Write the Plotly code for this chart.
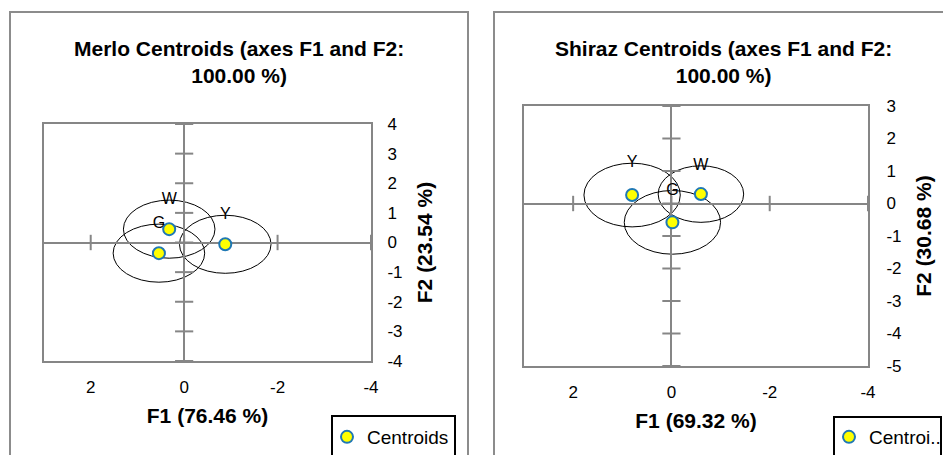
import plotly.graph_objects as go

# ---------------- data ----------------
merlo_labels = ["W", "G", "Y"]
merlo_f1 = [0.32, 0.54, -0.88]
merlo_f2 = [0.45, -0.36, -0.06]
merlo_radius = [0.98, 0.98, 0.98]

shiraz_labels = ["Y", "W", "G"]
shiraz_f1 = [0.80, -0.60, -0.02]
shiraz_f2 = [0.26, 0.29, -0.58]
shiraz_radius = [0.98, 0.87, 0.98]

merlo_xticks = [2, 0, -2, -4]
merlo_xticktext = ["2", "0", "-2", "-4"]
merlo_yticks = [-4, -3, -2, -1, 0, 1, 2, 3, 4]
merlo_yticktext = ["-4", "-3", "-2", "-1", "0", "1", "2", "3", "4"]
shiraz_xticks = [2, 0, -2, -4]
shiraz_xticktext = ["2", "0", "-2", "-4"]
shiraz_yticks = [-5, -4, -3, -2, -1, 0, 1, 2, 3]
shiraz_yticktext = ["-5", "-4", "-3", "-2", "-1", "0", "1", "2", "3"]

merlo_title = "Merlo Centroids (axes F1 and F2:<br>100.00 %)"
shiraz_title = "Shiraz Centroids (axes F1 and F2:<br>100.00 %)"
merlo_xtitle = "F1 (76.46 %)"
merlo_ytitle = "F2 (23.54 %)"
shiraz_xtitle = "F1 (69.32 %)"
shiraz_ytitle = "F2 (30.68 %)"

# ---------------- layout helpers ----------------
W, H = 943, 455
FONT = "Arial, Liberation Sans, sans-serif"
GRAY = "#868686"
MARK_FILL = "#FFFF00"
MARK_LINE = "#1F78B4"


def px(x):
    return x / W


def py(y):
    return 1 - y / H


fig = go.Figure()

panels = [
    dict(labels=merlo_labels, f1=merlo_f1, f2=merlo_f2, r=merlo_radius,
         xt=merlo_xticks, yt=merlo_yticks, xa="x", ya="y",
         name="Centroids", legend="legend"),
    dict(labels=shiraz_labels, f1=shiraz_f1, f2=shiraz_f2, r=shiraz_radius,
         xt=shiraz_xticks, yt=shiraz_yticks, xa="x2", ya="y2",
         name="Centroi..", legend="legend2"),
]

shapes = []
for p in panels:
    # tick crosses on the zero axes
    fig.add_trace(go.Scatter(
        x=[0] * len(p["yt"]), y=p["yt"], mode="markers",
        marker=dict(symbol="line-ew", size=13, line=dict(width=2, color=GRAY)),
        xaxis=p["xa"], yaxis=p["ya"], showlegend=False, hoverinfo="skip"))
    fig.add_trace(go.Scatter(
        x=p["xt"], y=[0] * len(p["xt"]), mode="markers",
        marker=dict(symbol="line-ns", size=11, line=dict(width=2, color=GRAY)),
        xaxis=p["xa"], yaxis=p["ya"], showlegend=False, hoverinfo="skip"))
    # confidence circles
    for cx, cy, r in zip(p["f1"], p["f2"], p["r"]):
        shapes.append(dict(type="circle", xref=p["xa"], yref=p["ya"],
                           x0=cx - r, x1=cx + r, y0=cy - r, y1=cy + r,
                           line=dict(color="black", width=1), layer="below"))
    # labels at the top of each circle
    fig.add_trace(go.Scatter(
        x=p["f1"], y=[cy + r for cy, r in zip(p["f2"], p["r"])],
        text=p["labels"], mode="text",
        textfont=dict(family=FONT, size=16, color="black"),
        xaxis=p["xa"], yaxis=p["ya"], showlegend=False, hoverinfo="skip"))
    # centroids
    fig.add_trace(go.Scatter(
        x=p["f1"], y=p["f2"], mode="markers", name=p["name"],
        marker=dict(size=12, color=MARK_FILL, line=dict(width=2, color=MARK_LINE)),
        xaxis=p["xa"], yaxis=p["ya"], legend=p["legend"], showlegend=True))

# outer chart borders and legend boxes
shapes += [
    dict(type="rect", xref="paper", yref="paper", x0=px(10), x1=px(468),
         y0=py(470), y1=py(12), line=dict(color="#8C8C8C", width=2), layer="below"),
    dict(type="rect", xref="paper", yref="paper", x0=px(494), x1=px(965),
         y0=py(470), y1=py(12), line=dict(color="#8C8C8C", width=2), layer="below"),
    dict(type="rect", xref="paper", yref="paper", x0=px(332), x1=px(455),
         y0=py(470), y1=py(416), line=dict(color="black", width=2)),
    dict(type="rect", xref="paper", yref="paper", x0=px(834), x1=px(941),
         y0=py(470), y1=py(417), line=dict(color="black", width=2)),
]

axis_common = dict(showgrid=False, zeroline=True, zerolinecolor=GRAY, zerolinewidth=2,
                   showline=True, mirror=True, linecolor=GRAY, linewidth=2,
                   ticks="", tickfont=dict(family=FONT, size=17, color="black"),
                   fixedrange=True, automargin=False)

fig.update_layout(
    width=W, height=H, margin=dict(l=0, r=0, t=0, b=0, autoexpand=False),
    paper_bgcolor="white", plot_bgcolor="white",
    font=dict(family=FONT, color="black"),
    shapes=shapes,
    xaxis=dict(domain=[px(44), px(371)], range=[3, -4], tickvals=merlo_xticks,
               ticktext=merlo_xticktext, anchor="y", ticklabelstandoff=10,
               title=dict(text="<b>" + merlo_xtitle + "</b>", font=dict(size=21), standoff=12),
               **axis_common),
    yaxis=dict(domain=[py(361), py(124)], range=[-4, 4], tickvals=merlo_yticks,
               ticktext=merlo_yticktext, side="right", anchor="x", ticklabelstandoff=11,
               title=dict(text="<b>" + merlo_ytitle + "</b>", font=dict(size=21), standoff=16),
               **axis_common),
    xaxis2=dict(domain=[px(524), px(868)], range=[3, -4], tickvals=shiraz_xticks,
                ticktext=shiraz_xticktext, anchor="y2", ticklabelstandoff=10,
                title=dict(text="<b>" + shiraz_xtitle + "</b>", font=dict(size=21), standoff=12),
                **axis_common),
    yaxis2=dict(domain=[py(366), py(106)], range=[-5, 3], tickvals=shiraz_yticks,
                ticktext=shiraz_yticktext, side="right", anchor="x2", ticklabelstandoff=13,
                title=dict(text="<b>" + shiraz_ytitle + "</b>", font=dict(size=21), standoff=16),
                **axis_common),
    legend=dict(x=px(327), y=py(437), xanchor="left", yanchor="middle",
                bgcolor="rgba(0,0,0,0)", borderwidth=0,
                font=dict(family=FONT, size=19, color="black")),
    legend2=dict(x=px(829), y=py(437), xanchor="left", yanchor="middle",
                 bgcolor="rgba(0,0,0,0)", borderwidth=0,
                 font=dict(family=FONT, size=19, color="black")),
    annotations=[
        dict(text="<b>" + merlo_title + "</b>", xref="paper", yref="paper",
             x=px(239), y=py(62), xanchor="center", yanchor="middle",
             showarrow=False, font=dict(family=FONT, size=21, color="black")),
        dict(text="<b>" + shiraz_title + "</b>", xref="paper", yref="paper",
             x=px(723), y=py(62), xanchor="center", yanchor="middle",
             showarrow=False, font=dict(family=FONT, size=21, color="black")),
    ],
    showlegend=True,
)

post = (
    "document.documentElement.style.margin='0';"
    "document.documentElement.style.overflow='hidden';"
    "document.body.style.margin='0';"
    "document.body.style.overflow='hidden';"
    "var d=document.getElementById('{plot_id}');"
    "d.style.position='fixed';d.style.left='0px';d.style.top='0px';"
)
fig.write_html("out.html", config={"displayModeBar": False}, post_script=post)
